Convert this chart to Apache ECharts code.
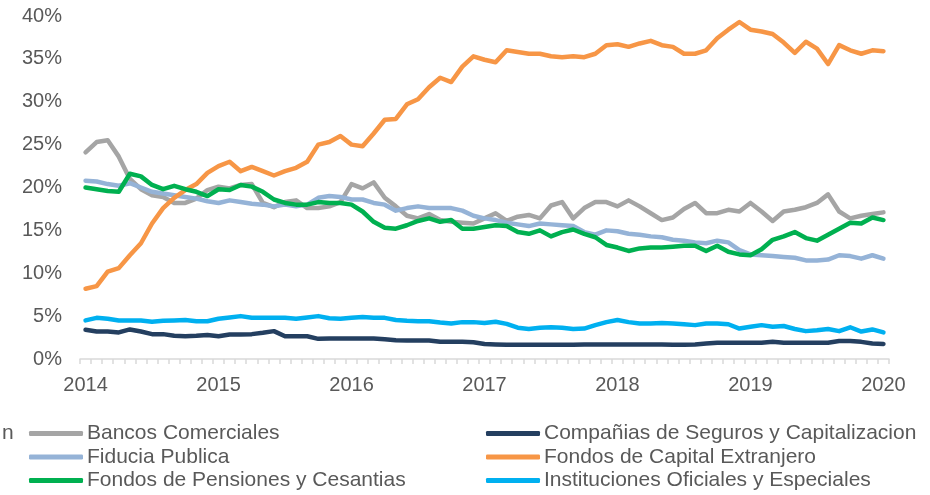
<!DOCTYPE html>
<html>
<head>
<meta charset="utf-8">
<script src="https://cdn.jsdelivr.net/npm/echarts@6/dist/echarts.min.js"></script>
<style>
  html, body { margin: 0; padding: 0; background: #fff; }
  #chart { width: 930px; height: 495px; }
</style>
</head>
<body>
<div id="chart"></div>
<script>
const years = ["2014", "2015", "2016", "2017", "2018", "2019", "2020"];
const months = [];
years.forEach((y, i) => {
  const last = i === years.length - 1 ? 1 : 12;
  for (let m = 1; m <= last; m += 1) months.push(`${y}-${String(m).padStart(2, "0")}`);
});

const bancos = [
  24.1, 25.3, 25.5, 23.6, 21.0, 19.8, 19.1, 18.9, 18.2, 18.2, 18.7, 19.7,
  20.1, 19.9, 20.3, 20.4, 18.2, 17.7, 18.3, 18.5, 17.6, 17.6, 17.8, 18.3,
  20.4, 19.9, 20.6, 18.8, 17.8, 16.7, 16.4, 16.9, 16.2, 16.0, 15.9, 15.8,
  16.4, 17.0, 16.1, 16.6, 16.8, 16.4, 17.9, 18.3, 16.4, 17.6, 18.3, 18.3,
  17.8, 18.5, 17.8, 17.0, 16.2, 16.5, 17.5, 18.2, 17.0, 17.0, 17.4, 17.2,
  18.2, 17.2, 16.1, 17.2, 17.4, 17.7, 18.2, 19.2, 17.2, 16.4, 16.7, 16.9,
  17.1,
];
const companias = [
  3.4, 3.2, 3.2, 3.1, 3.45, 3.2, 2.9, 2.9, 2.7, 2.65, 2.7, 2.8,
  2.65, 2.85, 2.85, 2.9, 3.05, 3.25, 2.65, 2.65, 2.65, 2.35, 2.4, 2.4,
  2.4, 2.4, 2.4, 2.3, 2.2, 2.15, 2.15, 2.15, 2.0, 2.0, 2.0, 1.95,
  1.75, 1.7, 1.65, 1.65, 1.65, 1.65, 1.65, 1.65, 1.65, 1.7, 1.7, 1.7,
  1.7, 1.7, 1.7, 1.7, 1.7, 1.65, 1.65, 1.7, 1.8, 1.9, 1.9, 1.9,
  1.9, 1.9, 2.0, 1.9, 1.9, 1.9, 1.9, 1.9, 2.1, 2.1, 2.0, 1.8,
  1.75,
];
const fiducia = [
  20.8, 20.7, 20.4, 20.2, 20.5, 20.0, 19.5, 19.3, 19.1, 18.9, 18.7, 18.4,
  18.2, 18.5, 18.3, 18.1, 18.0, 17.8, 18.0, 17.8, 18.0, 18.8, 19.0, 18.9,
  18.6, 18.6, 18.2, 18.0, 17.3, 17.6, 17.8, 17.6, 17.6, 17.6, 17.3, 16.7,
  16.4, 16.2, 15.9, 15.7, 15.5, 15.8, 15.7, 15.6, 15.5, 14.8, 14.5, 15.0,
  14.9, 14.6, 14.5, 14.3, 14.2, 13.9, 13.8, 13.6, 13.5, 13.8, 13.6, 12.7,
  12.2, 12.1, 12.0, 11.9, 11.8, 11.5, 11.5, 11.6, 12.1, 12.0, 11.7, 12.1,
  11.7,
];
const capitalExtranjero = [
  8.2, 8.5, 10.2, 10.6, 12.1, 13.5, 15.8, 17.6, 18.8, 19.7, 20.4, 21.7,
  22.5, 23.0, 21.9, 22.4, 21.9, 21.4, 21.9, 22.3, 23.0, 25.0, 25.3, 26.0,
  25.0, 24.8, 26.3, 27.9, 28.0, 29.7, 30.3, 31.7, 32.8, 32.3, 34.1, 35.3,
  34.9, 34.6, 36.0, 35.8, 35.6, 35.6, 35.3, 35.2, 35.3, 35.2, 35.6, 36.6,
  36.7, 36.4, 36.8, 37.1, 36.6, 36.4, 35.6, 35.6, 36.0, 37.4, 38.4, 39.3,
  38.4, 38.2, 37.9, 36.9, 35.7, 37.0, 36.2, 34.4, 36.6, 36.0, 35.6, 36.0,
  35.9,
];
const pensiones = [
  20.0, 19.8, 19.6, 19.5, 21.6, 21.3, 20.3, 19.8, 20.2, 19.8, 19.5, 19.0,
  19.8, 19.7, 20.3, 20.1, 19.5, 18.6, 18.2, 18.0, 18.0, 18.3, 18.2, 18.2,
  18.0, 17.2, 16.0, 15.3, 15.2, 15.6, 16.1, 16.4, 16.0, 16.2, 15.2, 15.2,
  15.4, 15.6, 15.5, 14.8, 14.6, 15.0, 14.3, 14.8, 15.1, 14.6, 14.2, 13.3,
  13.0, 12.6, 12.9, 13.0, 13.0, 13.1, 13.2, 13.2, 12.6, 13.2, 12.5, 12.2,
  12.1, 12.8, 13.9, 14.3, 14.8, 14.1, 13.8, 14.5, 15.2, 15.9, 15.8, 16.5,
  16.2,
];
const instituciones = [
  4.5, 4.8, 4.7, 4.5, 4.5, 4.5, 4.35, 4.45, 4.5, 4.55, 4.4, 4.4,
  4.7, 4.85, 5.0, 4.8, 4.8, 4.8, 4.8, 4.7, 4.85, 5.0, 4.75, 4.7,
  4.8, 4.9, 4.8, 4.8, 4.55, 4.45, 4.4, 4.4, 4.25, 4.15, 4.3, 4.3,
  4.2, 4.35, 4.1, 3.65, 3.5, 3.65, 3.7, 3.65, 3.5, 3.55, 3.95, 4.3,
  4.55, 4.3, 4.15, 4.15, 4.2, 4.15, 4.05, 3.95, 4.15, 4.15, 4.05, 3.55,
  3.75, 3.95, 3.75, 3.85, 3.5, 3.25, 3.35, 3.5, 3.25, 3.7, 3.2, 3.45,
  3.1,
];
const yTicks = [0, 5, 10, 15, 20, 25, 30, 35, 40];

const labelColor = "#595959";
const font = "Liberation Sans";

const seriesDefs = [
  { name: "Bancos Comerciales", data: bancos, color: "#a5a5a5" },
  { name: "Compañias de Seguros y Capitalizacion", data: companias, color: "#243f60" },
  { name: "Fiducia Publica", data: fiducia, color: "#95b3d7" },
  { name: "Fondos de Capital Extranjero", data: capitalExtranjero, color: "#f79646" },
  { name: "Fondos de Pensiones y Cesantias", data: pensiones, color: "#00b050" },
  { name: "Instituciones Oficiales y Especiales", data: instituciones, color: "#00b0f0" },
];

const chart = echarts.init(document.getElementById("chart"), null, { renderer: "canvas" });

// Excel lays the legend out in two columns, three rows
function legendItem(name, index) {
  const col = index % 2;
  const row = Math.floor(index / 2);
  return {
    data: [name],
    left: col === 0 ? 29 : 486,
    top: 423 + row * 23.5,
    padding: 0,
    itemWidth: 54,
    itemHeight: 5,
    icon: "roundRect",
    selectedMode: false,
    textStyle: { color: labelColor, fontFamily: font, fontSize: 21, padding: [0, 0, 0, -1] },
  };
}

chart.setOption({
  animation: false,
  backgroundColor: "#fff",
  textStyle: { fontFamily: font },
  grid: { left: 80, right: 41, top: 16, bottom: 136 },
  legend: seriesDefs.map((s, i) => legendItem(s.name, i)),
  graphic: [{
    type: "text",
    left: 2,
    top: 423,
    style: { text: "n", fill: labelColor, font: `21px ${font}` },
  }],
  xAxis: {
    type: "category",
    data: months,
    boundaryGap: true,
    axisLine: { lineStyle: { color: "#d9d9d9", width: 1.5 } },
    axisTick: { show: true, interval: 0, length: 5, lineStyle: { color: "#d9d9d9", width: 1.5 } },
    axisLabel: {
      interval: (index) => index % 12 === 0,
      formatter: (value) => value.slice(0, 4),
      color: labelColor,
      fontFamily: font,
      fontSize: 20,
      margin: 16,
    },
    splitLine: { show: false },
  },
  yAxis: {
    type: "value",
    min: yTicks[0],
    max: yTicks[yTicks.length - 1],
    interval: 5,
    axisLine: { show: false },
    axisTick: { show: false },
    splitLine: { show: false },
    axisLabel: {
      formatter: "{value}%",
      color: labelColor,
      fontFamily: font,
      fontSize: 20,
      margin: 18,
    },
  },
  series: seriesDefs.map((s) => ({
    name: s.name,
    type: "line",
    data: s.data,
    symbol: "none",
    smooth: false,
    color: s.color,
    lineStyle: { width: 4.5, color: s.color, cap: "round", join: "round" },
  })),
});
</script>
</body>
</html>
